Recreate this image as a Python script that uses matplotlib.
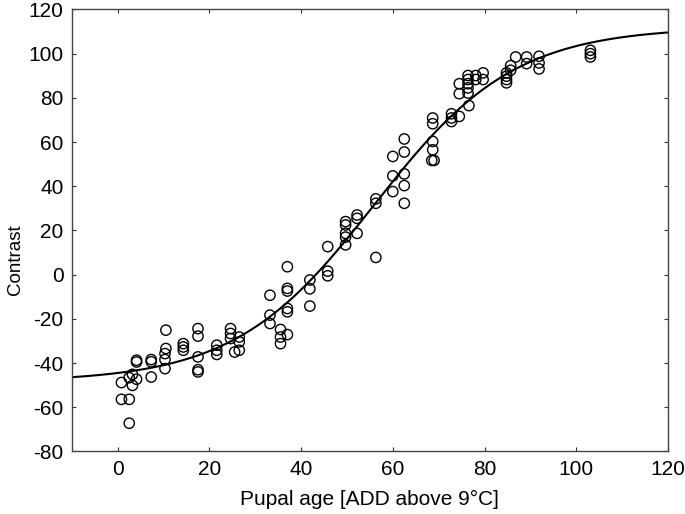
import numpy as np
import matplotlib.pyplot as plt

plt.rcParams['font.family'] = ['Liberation Sans', 'DejaVu Sans']
plt.rcParams['axes.unicode_minus'] = False

# pupal age (ADD above 9 C) and contrast
age = [0.8, 0.8,
       2.5, 2.5, 2.5,
       3.2, 3.2,
       4.1, 4.1, 4.1,
       7.3, 7.3, 7.3,
       10.3, 10.3, 10.3, 10.5, 10.5,
       14.3, 14.3, 14.3,
       17.5, 17.5, 17.5, 17.5, 17.5,
       21.6, 21.6, 21.6,
       24.6, 24.6, 24.6, 25.5,
       26.5, 26.5, 26.5,
       33.2, 33.2, 33.2,
       35.5, 35.5, 35.5,
       37.0, 37.0, 37.0, 37.0, 37.0, 37.0,
       41.9, 41.9, 41.9,
       45.8, 45.8, 45.8,
       49.7, 49.7, 49.7, 49.7, 49.7,
       52.2, 52.2, 52.2,
       56.3, 56.3, 56.3,
       60.0, 60.0, 60.0,
       62.5, 62.5, 62.5, 62.5, 62.5,
       68.7, 68.7, 68.7, 68.7, 68.5, 69.0,
       72.8, 72.8, 72.8,
       74.5, 74.5, 74.5,
       76.4, 76.4, 76.4, 76.4, 76.4, 76.6,
       78.1, 78.1,
       79.7, 79.7,
       84.8, 84.8, 84.8, 84.8,
       85.7, 85.7,
       86.8,
       89.2, 89.2,
       91.9, 91.9, 91.9,
       103.1, 103.1, 103.1]
contrast = [-48.8, -56.4,
            -46.6, -56.4, -67.2,
            -45.1, -50.1,
            -47.3, -38.7, -39.5,
            -38.4, -39.4, -46.3,
            -42.5, -38.4, -35.7, -33.4, -25.1,
            -31.2, -32.7, -34.2,
            -24.4, -27.8, -37.2, -43.0, -44.0,
            -31.9, -34.2, -36.1,
            -24.4, -26.6, -28.9, -35.0,
            -28.2, -30.4, -34.2,
            -9.3, -18.3, -22.1,
            -24.8, -28.2, -31.2,
            3.6, -6.2, -7.4, -15.3, -16.8, -27.1,
            -2.4, -6.4, -14.2,
            12.7, 1.6, -0.5,
            24.0, 22.5, 18.7, 17.0, 13.5,
            27.0, 25.5, 18.7,
            34.3, 32.3, 7.8,
            53.5, 44.7, 37.6,
            61.4, 55.5, 45.6, 40.3, 32.3,
            70.9, 68.3, 60.3, 56.5, 51.7, 51.7,
            72.8, 70.9, 69.3,
            86.4, 81.9, 71.6,
            90.1, 88.3, 86.4, 84.5, 82.2, 76.5,
            90.1, 88.3,
            91.3, 88.3,
            91.3, 89.8, 88.3, 86.8,
            94.6, 92.5,
            98.5,
            98.5, 95.5,
            98.8, 95.8, 93.1,
            101.5, 100.0, 98.5]

# logistic fit, parameters
fit_low, fit_high, fit_mid, fit_scale = -48.5, 112.0, 56.0, 15.3

fig = plt.figure(figsize=(6.85, 5.14), dpi=100)
ax = fig.add_axes([0.105, 0.1216, 0.87, 0.86])

xs = np.linspace(-10, 120, 400)
ys = fit_low + (fit_high - fit_low) / (1 + np.exp(-(xs - fit_mid) / fit_scale))
ax.plot(xs, ys, color='black', lw=1.5)

ax.scatter(age, contrast, s=55, facecolors='none', edgecolors='black', linewidths=1.0, zorder=3)

ax.set_xlim(-10, 120)
ax.set_ylim(-80, 120)
ax.set_xticks(range(0, 121, 20))
ax.set_yticks(range(-80, 121, 20))
ax.tick_params(direction='in', length=3, width=0.8, top=True, right=True,
               labelsize=15, colors='#333333', labelcolor='black', pad=6)
for sp in ax.spines.values():
    sp.set_color('#444444')
    sp.set_linewidth(1.0)

ax.set_xlabel('Pupal age [ADD above 9°C]', fontsize=15, labelpad=8)
ax.set_ylabel('Contrast', fontsize=13.5)
# label sits a bit below the axis middle in the original
ax.yaxis.set_label_coords(-0.08, 0.435)

fig.savefig('out.png', dpi=100)
